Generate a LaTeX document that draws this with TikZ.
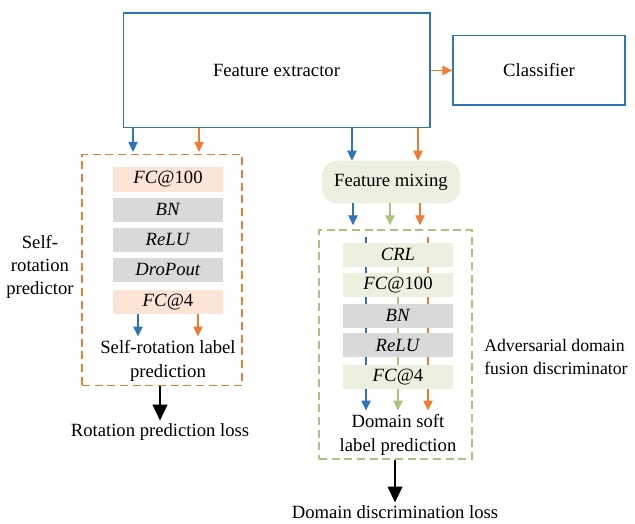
\documentclass[tikz,border=0pt]{standalone}
\usepackage{fontspec}
\setmainfont{Liberation Serif}
\usetikzlibrary{arrows.meta,backgrounds}
\definecolor{fxblue}{HTML}{2E75B6}
\definecolor{fxorange}{HTML}{ED7D31}
\definecolor{fxgreen}{HTML}{A9C47F}
\definecolor{fcpeach}{HTML}{FBE5D6}
\definecolor{layergray}{HTML}{D9D9D9}
\definecolor{mixgreen}{HTML}{EBF1DE}

\begin{document}
\begin{tikzpicture}[x=0.75pt,y=-0.75pt,
    font=\fontsize{14}{17.5}\selectfont,
    block/.style={draw=fxblue, line width=1pt, inner sep=0pt},
    layer/.style={minimum width=82.5pt, minimum height=18pt, inner sep=0pt},
    fclayer/.style={layer, fill=fcpeach},
    graylayer/.style={layer, fill=layergray},
    greenlayer/.style={layer, fill=mixgreen},
    dashbox/.style={line width=1.1pt, dash pattern=on 6pt off 3.5pt, inner sep=0pt},
    flow/.style={-{Triangle[width=7pt,length=7.5pt]}, line width=1pt},
    lossarrow/.style={-{Triangle[width=11pt,length=12pt]}, line width=1.5pt},
    txt/.style={align=center, inner sep=0pt}]
    \useasboundingbox (0,0) rectangle (635,524);

    % backbone and classifier
    \node[block, minimum width=230pt, minimum height=86pt] (fe) at (276.5,70.5) {Feature extractor};
    \node[block, minimum width=129pt, minimum height=52pt] (cls) at (539,70.5) {Classifier};
    \draw[flow, fxorange] (fe.east) -- (cls.west);

    % self-rotation predictor
    \node[dashbox, draw=fxorange, minimum width=120pt, minimum height=173pt] (rotbox) at (162,270) {};
    \node[fclayer] (rfc1) at (168,179.5) {\textit{FC}@100};
    \node[graylayer] (rbn) at (168,209.5) {\textit{BN}};
    \node[graylayer] (rrelu) at (168,239.5) {\textit{ReLU}};
    \node[graylayer] (rdrop) at (168,269.5) {\textit{DroPout}};
    \node[fclayer] (rfc2) at (168,302) {\textit{FC}@4};
    \node[txt] (rotpred) at (168,361) {Self-rotation label\\prediction};
    \node[txt] (rotname) at (40,267) {Self-\\rotation\\predictor};
    \node[txt] (rotloss) at (160,432) {Rotation prediction loss};

    \coordinate (ra) at (133,0);
    \coordinate (rb) at (199,0);
    \coordinate (rc) at (138,0);
    \coordinate (rd) at (198,0);
    \draw[flow, fxblue] (fe.south -| ra) -- ([yshift=1.5pt]rotbox.north -| ra);
    \draw[flow, fxorange] (fe.south -| rb) -- ([yshift=1.5pt]rotbox.north -| rb);
    \draw[flow, fxblue] (rfc2.south -| rc) -- ([yshift=3pt]rotpred.north -| rc);
    \draw[flow, fxorange] (rfc2.south -| rd) -- ([yshift=3pt]rotpred.north -| rd);
    \draw[lossarrow] (rotbox.south -| rotloss) -- ([yshift=2pt]rotloss.north);

    % adversarial domain fusion discriminator
    \node[fill=mixgreen, rounded corners=11pt, minimum width=103.5pt, minimum height=31.5pt, inner sep=0pt] (mix) at (391,182) {Feature mixing};
    \node[dashbox, draw=fxgreen, minimum width=114.75pt, minimum height=171.75pt] (advbox) at (395.5,344.5) {};
    \node[greenlayer] (crl) at (398,254.5) {\textit{CRL}};
    \node[greenlayer] (dfc1) at (398,285) {\textit{FC}@100};
    \node[graylayer] (dbn) at (398,315.5) {\textit{BN}};
    \node[graylayer] (drelu) at (398,345) {\textit{ReLU}};
    \node[greenlayer] (dfc2) at (398,377) {\textit{FC}@4};
    \node[txt] (dompred) at (398,435) {Domain soft\\label prediction};
    \node[txt, align=left, anchor=west, font=\fontsize{13.3}{17.5}\selectfont] (advname) at (484,357) {Adversarial domain\\fusion discriminator};
    \node[txt] (domloss) at (395,512) {Domain discrimination loss};

    \coordinate (ma) at (352,0);
    \coordinate (mb) at (418,0);
    \coordinate (mc) at (353,0);
    \coordinate (md) at (390,0);
    \coordinate (me) at (420,0);
    \draw[flow, fxblue] (fe.south -| ma) -- (mix.north -| ma);
    \draw[flow, fxorange] (fe.south -| mb) -- (mix.north -| mb);
    \draw[flow, fxblue] (mix.south -| mc) -- ([yshift=3pt]advbox.north -| mc);
    \draw[flow, fxgreen] (mix.south -| md) -- ([yshift=3pt]advbox.north -| md);
    \draw[flow, fxorange] (mix.south -| me) -- ([yshift=3pt]advbox.north -| me);

    \coordinate (da) at (366,0);
    \coordinate (db) at (398,0);
    \coordinate (dc) at (428,0);
    \begin{pgfonlayer}{background}
    \draw[flow, fxblue] ([yshift=-6pt]advbox.north -| da) -- ([yshift=3pt]dompred.north -| da);
    \draw[flow, fxgreen] (crl.center -| db) -- ([yshift=3pt]dompred.north -| db);
    \draw[flow, fxorange] ([yshift=-6pt]advbox.north -| dc) -- ([yshift=3pt]dompred.north -| dc);
    \end{pgfonlayer}
    \draw[lossarrow] (advbox.south -| domloss) -- ([yshift=2pt]domloss.north);
\end{tikzpicture}
\end{document}
